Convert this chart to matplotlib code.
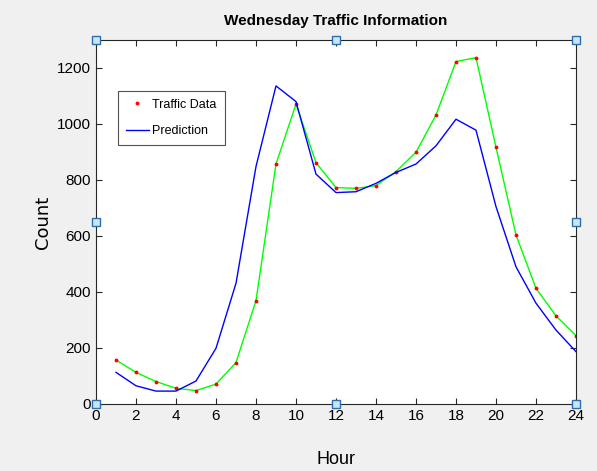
import matplotlib
matplotlib.use("Agg")
import matplotlib.pyplot as plt

plt.rcParams['font.family'] = ['Liberation Sans Narrow', 'Liberation Sans', 'DejaVu Sans']

# Data
hours = list(range(1, 25))
traffic = [157, 113, 80, 56, 48, 71, 148, 369, 857, 1071, 862, 773,
           770, 780, 830, 899, 1032, 1223, 1237, 917, 604, 413, 315, 244]
prediction = [113, 65, 46, 46, 82, 199, 431, 848, 1136, 1080, 821, 755,
              758, 788, 827, 857, 922, 1017, 978, 705, 490, 360, 264, 187]
x_ticks = list(range(0, 25, 2))
y_ticks = list(range(0, 1201, 200))

fig = plt.figure(figsize=(5.97, 4.71), dpi=100)
fig.patch.set_facecolor('#f0f0f0')
ax = fig.add_axes([0.1608, 0.1423, 0.804, 0.7728])
ax.set_facecolor('white')

ax.plot(hours, traffic, color='#00ff00', lw=1.0)
ax.plot(hours, traffic, '.', color='red', markersize=3.5, label='Traffic Data')
ax.plot(hours, prediction, color='blue', lw=1.0, label='Prediction')

ax.set_xlim(0, 24)
ax.set_ylim(0, 1300)
ax.set_xticks(x_ticks)
ax.set_yticks(y_ticks)
ax.tick_params(direction='in', top=True, right=True, labelsize=11, length=4, color='#262626')
for s in ax.spines.values():
    s.set_color('#262626')
    s.set_linewidth(0.8)

ax.set_title('Wednesday Traffic Information', fontsize=11, fontweight='bold', pad=11)
ax.set_xlabel('Hour', fontsize=13, labelpad=20)
ax.set_ylabel('Count', fontsize=13, family=['DejaVu Sans'], labelpad=4)

leg = ax.legend(loc='upper left', bbox_to_anchor=(0.046, 0.861), fontsize=9,
                frameon=True, fancybox=False, edgecolor='#262626', borderpad=0.65,
                handlelength=1.8, handletextpad=0.3, borderaxespad=0, labelspacing=1.15)
leg.get_frame().set_linewidth(0.8)

# selection handles on the axes box
hx = [0, 0.5, 1, 0, 1, 0, 0.5, 1]
hy = [0, 0, 0, 0.5, 0.5, 1, 1, 1]
ax.plot(hx, hy, 's', transform=ax.transAxes, clip_on=False, markersize=6,
        markerfacecolor='#cfe3f5', markeredgecolor='#2a6fb0', markeredgewidth=1.0,
        linestyle='none', zorder=10)

fig.savefig('out.png', dpi=100, facecolor=fig.get_facecolor())
